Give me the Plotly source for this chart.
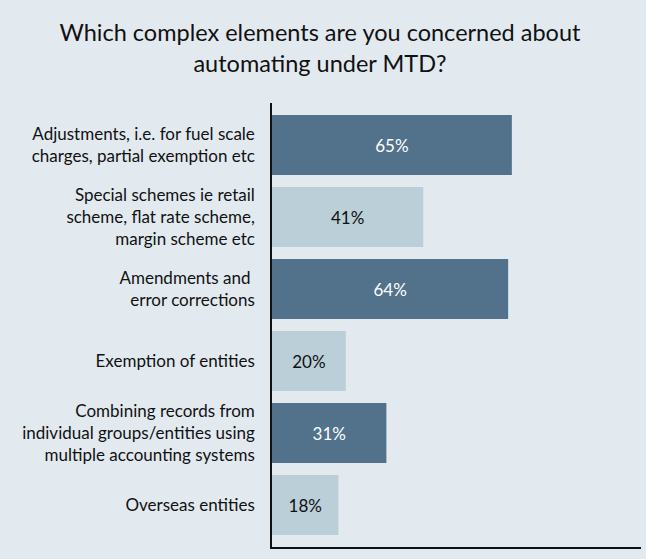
import plotly.graph_objects as go

categories = [
    "Adjustments, i.e. for fuel scale<br>charges, partial exemption etc",
    "Special schemes ie retail<br>scheme, flat rate scheme,<br>margin scheme etc",
    "Amendments and <br>error corrections",
    "Exemption of entities",
    "Combining records from<br>individual groups/entities using<br>multiple accounting systems",
    "Overseas entities",
]
values = [65, 41, 64, 20, 31, 18]

DARK = "#52728c"
LIGHT = "#bacfd8"
BG = "#e2eaf0"
bar_colors = [DARK, LIGHT, DARK, LIGHT, DARK, LIGHT]
text_colors = ["white" if c == DARK else "#111111" for c in bar_colors]

FONT = "Lato, Inter, sans-serif"

fig = go.Figure(
    go.Bar(
        x=values,
        y=categories,
        orientation="h",
        marker=dict(color=bar_colors, line=dict(width=0)),
        width=60 / 72,
        texttemplate="%{x}%",
        textposition="inside",
        insidetextanchor="middle",
        textfont=dict(color=text_colors, size=17, family=FONT),
        hoverinfo="skip",
    )
)

fig.update_layout(
    width=646,
    height=559,
    paper_bgcolor=BG,
    plot_bgcolor=BG,
    margin=dict(l=272, r=5, t=103, b=12),
    showlegend=False,
    title=dict(
        text="Which complex elements are you concerned about<br>automating under MTD?",
        x=320 / 646,
        xanchor="center",
        xref="container",
        y=1 - 41 / 559,
        yref="container",
        yanchor="top",
        font=dict(size=23.5, color="#111111", family=FONT),
    ),
    font=dict(family=FONT, color="#111111"),
)

fig.update_xaxes(
    range=[0, 100],
    showgrid=False,
    zeroline=False,
    showticklabels=False,
    ticks="",
    showline=True,
    linecolor="#111111",
    linewidth=1.5,
    fixedrange=True,
)
fig.update_yaxes(
    range=[5.5 + 6 / 72, -0.5 - 6 / 72],
    showgrid=False,
    zeroline=False,
    ticks="",
    showline=True,
    linecolor="#111111",
    linewidth=1.5,
    ticklabelstandoff=12,
    tickfont=dict(size=17, color="#111111", family=FONT),
    fixedrange=True,
)

fig.write_html("out.html")
